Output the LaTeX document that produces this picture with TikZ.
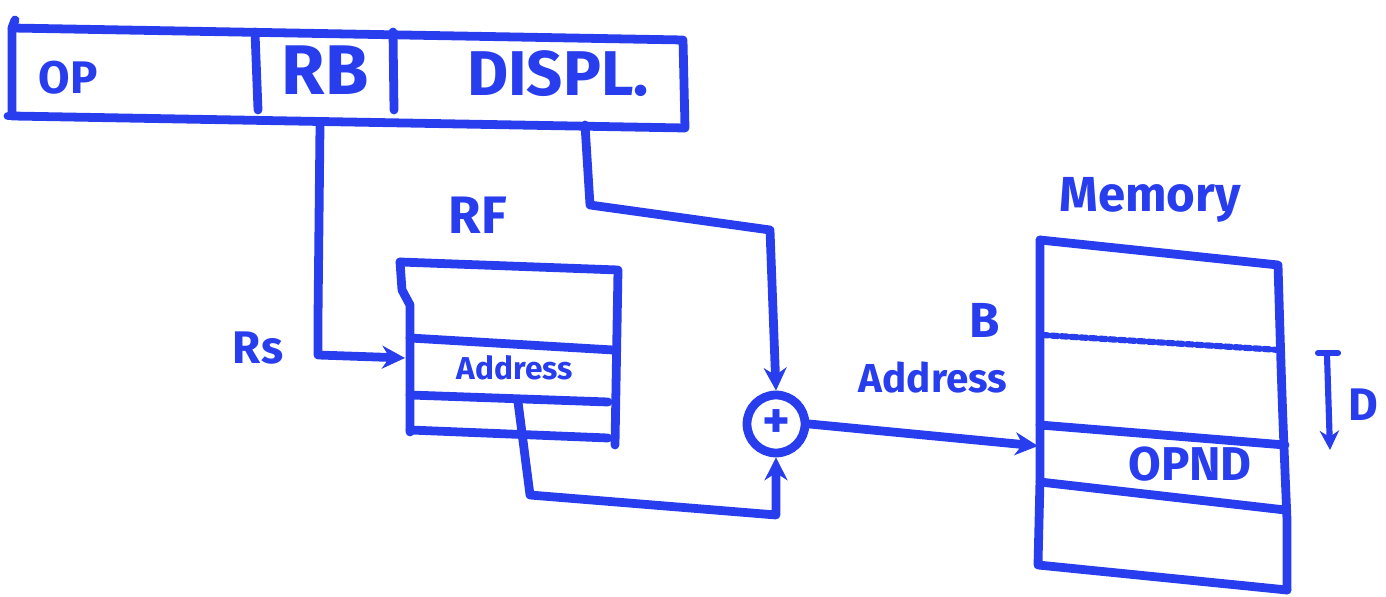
\documentclass[tikz,border=0pt]{standalone}
\usepackage{fontspec}
\setmainfont{Fira Sans}
\usetikzlibrary{arrows.meta}
\definecolor{pen}{RGB}{40,62,238}
\tikzset{
  ink/.style={draw=pen, line width=5pt, line cap=round, line join=round},
  thin ink/.style={draw=pen, line width=3.5pt, line cap=round},
  arr/.style={ink, -{Stealth[length=13pt,width=13pt]}},
  lbl/.style={text=pen, inner sep=0pt, font=\bfseries},
}
\begin{document}
\begin{tikzpicture}[x=0.02cm,y=-0.02cm]
\useasboundingbox (0,0) rectangle (1386,597);
% instruction word
\coordinate (iTL) at (12,28); \coordinate (iTR) at (683,40);
\coordinate (iBL) at (12,116); \coordinate (iBR) at (685,128);
\draw[ink] (iTL) -- (iTR) -- (iBR) -- (iBL) -- cycle;
\draw[ink] (15,20) -- (iTL);
\draw[ink] (iBL) -- (8,116);
\draw[ink] (255,32) -- (258,110);
\draw[ink] (393,32) -- (394,110);
\node[lbl, font=\bfseries\fontsize{26}{26}\selectfont] (op) at (68,78) {OP};
\node[lbl, font=\bfseries\fontsize{40}{40}\selectfont] (rb) at (325,70) {RB};
\node[lbl, font=\bfseries\fontsize{36}{36}\selectfont] (displ) at (558,74) {DISPL.};
% register file
\node[lbl, font=\bfseries\fontsize{30}{30}\selectfont] (rf) at (478,215) {RF};
\coordinate (rfTL) at (400,262); \coordinate (rfTR) at (618,270);
\draw[ink] (rfTL) -- (rfTR) -- (615,445);
\draw[ink] (rfTL) -- (402,290) -- (410,305) -- (410,432);
\draw[ink] (410,338) -- (613,350);
\draw[ink] (410,395) -- (608,402);
\draw[ink] (410,430) -- (608,438);
\node[lbl, font=\bfseries\fontsize{18}{18}\selectfont] (rfaddr) at (515,368) {Address};
\node[lbl, font=\bfseries\fontsize{26}{26}\selectfont] (rs) at (258,348) {Rs};
% RB -> RF
\coordinate (rbout) at (320,125);
\coordinate (rbc) at (318,355);
\coordinate (rfin) at (405,358);
\draw[arr] (rbout) -- (318,318) -- (rbc) -- (rfin);
% adder
\node[circle, ink, minimum size=33pt, inner sep=0pt] (add) at (776,424) {};
\node[lbl, font=\bfseries\fontsize{30}{30}\selectfont] at (add) {+};
% DISPL -> adder
\coordinate (dout) at (585,125);
\draw[arr] (dout) -- (590,205) -- (770,230) -- (add.north);
% RF -> adder
\coordinate (rfout) at (518,402);
\draw[arr] (rfout) -- (530,495) -- (776,515) -- (add.south);
% memory
\node[lbl, font=\bfseries\fontsize{28}{28}\selectfont] (mem) at (1150,200) {Memory};
\coordinate (mTL) at (1040,240); \coordinate (mTR) at (1278,265);
\coordinate (mBL) at (1038,565); \coordinate (mBR) at (1287,590);
\draw[ink] (mTL) -- (mTR) .. controls (1282,400) .. (1287,520) -- (mBR);
\draw[ink] (mTL) -- (1040,480) -- (mBL) -- (mBR);
\draw[pen, line width=3.5pt, dotted, line cap=round] (1042,335) -- (1280,350);
\draw[ink] (1040,425) -- (1285,445);
\draw[ink] (1040,482) -- (1285,510);
\node[lbl, font=\bfseries\fontsize{27}{27}\selectfont] (opnd) at (1190,464) {OPND};
\node[lbl, font=\bfseries\fontsize{28}{28}\selectfont] (b) at (985,320) {B};
\node[lbl, font=\bfseries\fontsize{23}{23}\selectfont] (baddr) at (933,378) {Address};
\coordinate (memin) at (1038,446);
\draw[arr] (add.east) -- (memin);
% displacement D
\coordinate (dtop) at (1327,355);
\coordinate (dbot) at (1330,450);
\draw[thin ink] (1318,353) -- (1338,353);
\draw[thin ink, -{Stealth[length=11pt,width=11pt]}] (dtop) -- (dbot);
\node[lbl, font=\bfseries\fontsize{26}{26}\selectfont] (d) at (1363,405) {D};
\end{tikzpicture}
\end{document}
